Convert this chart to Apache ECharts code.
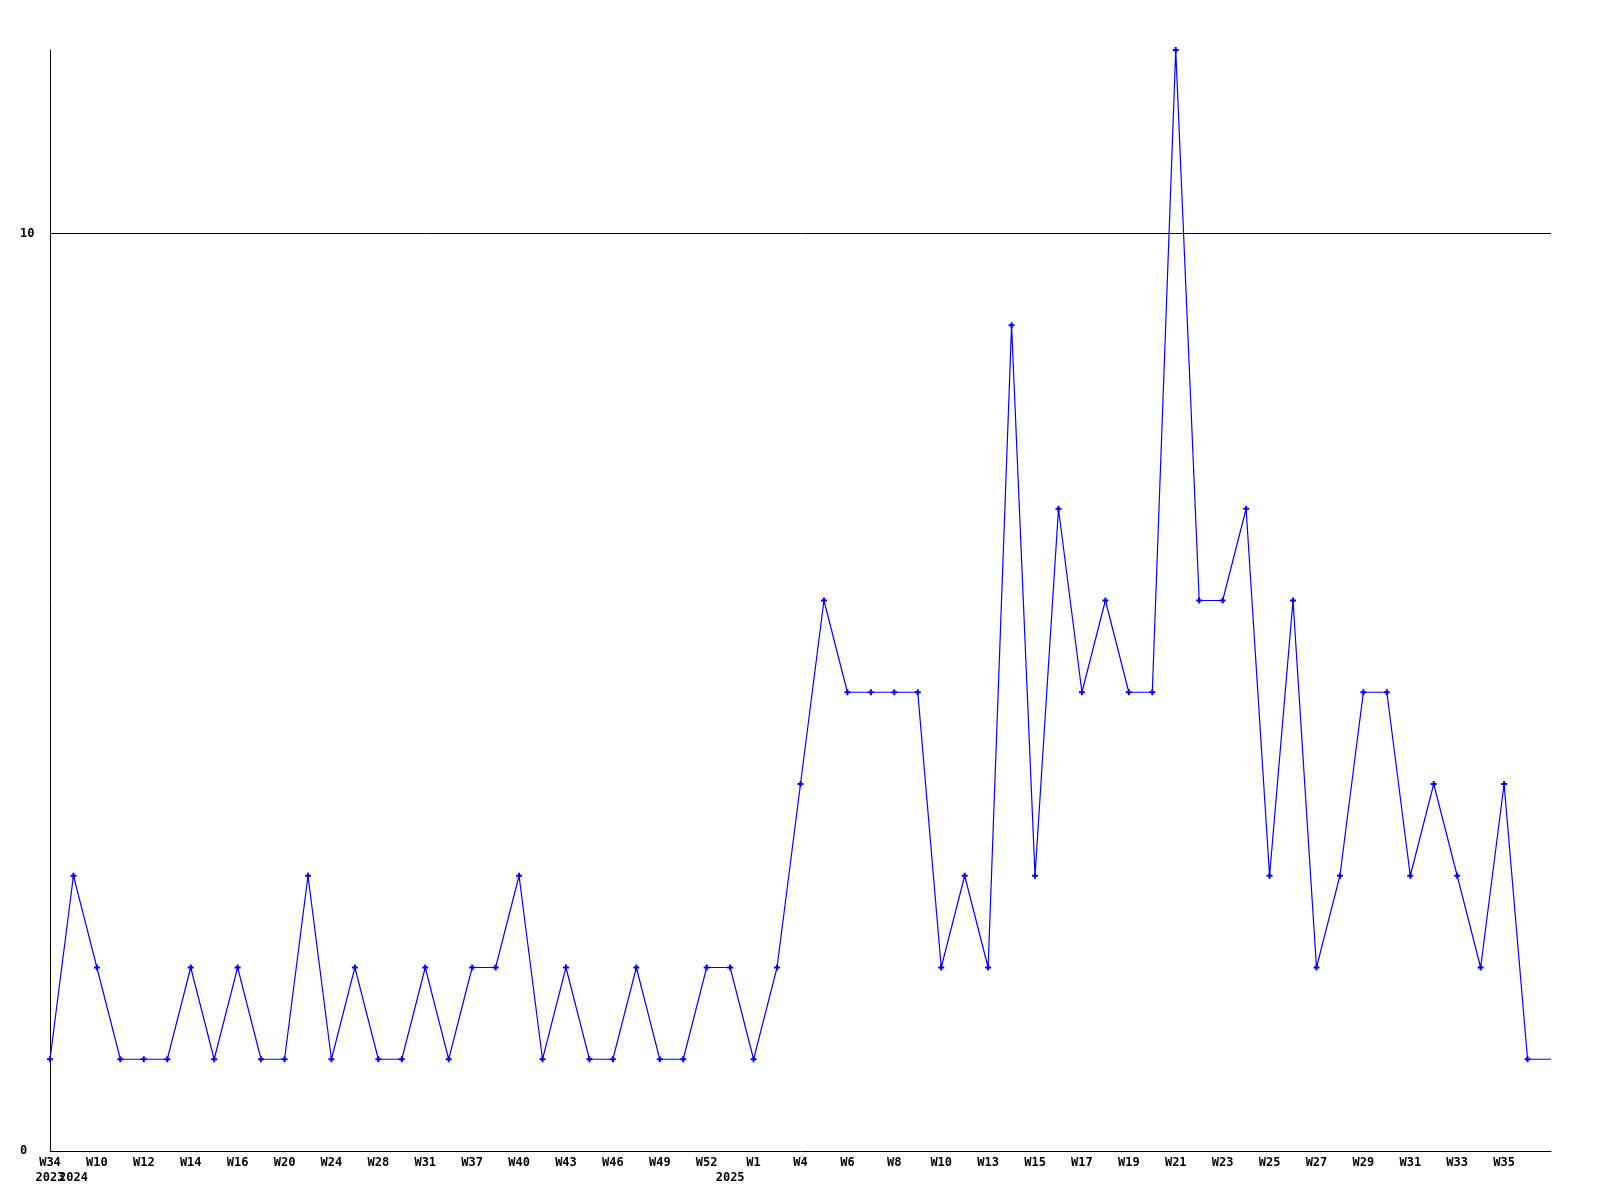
<!DOCTYPE html>
<html>
<head>
<meta charset="utf-8">
<title>Weekly count</title>
<script src="https://cdn.jsdelivr.net/npm/echarts@6/dist/echarts.min.js"></script>
<style>
  html, body { margin: 0; padding: 0; background: #fff; }
  #chart { width: 1600px; height: 1200px; }
</style>
</head>
<body>
<div id="chart"></div>
<script>
// week labels (only every other one is printed on the axis)
const weeks = [
  'W34', 'W9', 'W10', 'W11', 'W12', 'W13', 'W14', 'W15', 'W16', 'W18',
  'W20', 'W22', 'W24', 'W26', 'W28', 'W30', 'W31', 'W35', 'W37', 'W38',
  'W40', 'W41', 'W43', 'W44', 'W46', 'W48', 'W49', 'W51', 'W52', 'W0',
  'W1', 'W3', 'W4', 'W5', 'W6', 'W7', 'W8', 'W9', 'W10', 'W12',
  'W13', 'W14', 'W15', 'W16', 'W17', 'W18', 'W19', 'W20', 'W21', 'W22',
  'W23', 'W24', 'W25', 'W26', 'W27', 'W28', 'W29', 'W30', 'W31', 'W32',
  'W33', 'W34', 'W35', 'W36', 'W37'
];

// year printed under the first week of each year
const years = [
  '2023', '2024', '', '', '', '', '', '', '', '',
  '', '', '', '', '', '', '', '', '', '',
  '', '', '', '', '', '', '', '', '', '2025',
  '', '', '', '', '', '', '', '', '', '',
  '', '', '', '', '', '', '', '', '', '',
  '', '', '', '', '', '', '', '', '', '',
  '', '', '', '', ''
];

const counts = [
  1, 3, 2, 1, 1, 1, 2, 1, 2, 1,
  1, 3, 1, 2, 1, 1, 2, 1, 2, 2,
  3, 1, 2, 1, 1, 2, 1, 1, 2, 2,
  1, 2, 4, 6, 5, 5, 5, 5, 2, 3,
  2, 9, 3, 7, 5, 6, 5, 5, 12, 6,
  6, 7, 3, 6, 2, 3, 5, 5, 3, 4,
  3, 2, 4, 1, 1
];

const lastIdx = counts.length - 1;

const chart = echarts.init(document.getElementById('chart'));

chart.setOption({
  backgroundColor: '#ffffff',
  animation: false,
  grid: {
    left: 50,
    right: 49,
    top: 50,
    bottom: 49
  },
  xAxis: {
    type: 'category',
    data: weeks,
    boundaryGap: false,
    axisLine: { show: true, lineStyle: { color: '#000', width: 1 } },
    axisTick: { show: false },
    splitLine: { show: false },
    axisLabel: {
      // all labels kept (no overlap hiding), blank ones come from the formatter
      interval: 0,
      formatter: function (value, index) {
        if (index === lastIdx) return '';
        const top = index % 2 === 0 ? value : ' ';
        return years[index] ? top + '\n' + years[index] : (index % 2 === 0 ? value : '');
      },
      color: '#000',
      fontFamily: 'DejaVu Sans Mono',
      fontWeight: 'bold',
      fontSize: 12,
      lineHeight: 15,
      margin: 4
    }
  },
  yAxis: {
    type: 'value',
    min: 0,
    max: 12,
    interval: 10,
    axisLine: { show: true, lineStyle: { color: '#000', width: 1 } },
    axisTick: { show: false },
    splitLine: { show: false },
    axisLabel: {
      showMaxLabel: false,
      align: 'left',
      margin: 30,
      color: '#000',
      fontFamily: 'DejaVu Sans Mono',
      fontWeight: 'bold',
      fontSize: 12
    }
  },
  series: [
    {
      type: 'line',
      data: counts.map((v, i) => i === lastIdx ? { value: v, symbolSize: 0 } : v),
      symbol: 'path://M2,0H4V2H6V4H4V6H2V4H0V2H2Z',
      symbolSize: 6,
      showAllSymbol: true,
      itemStyle: { color: '#0000ff' },
      lineStyle: { color: '#0000ff', width: 1.2 },
      markLine: {
        silent: true,
        symbol: 'none',
        label: { show: false },
        lineStyle: { color: '#000', width: 1, type: 'solid' },
        data: [{ yAxis: 10 }]
      }
    }
  ]
});
</script>
</body>
</html>
